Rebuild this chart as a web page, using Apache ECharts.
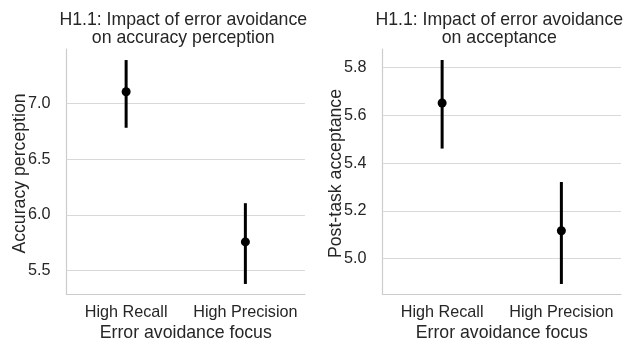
<!DOCTYPE html>
<html><head><meta charset="utf-8">
<script src="https://cdn.jsdelivr.net/npm/echarts@6/dist/echarts.min.js"></script>
<style>html,body{margin:0;padding:0;background:#fff}#c{width:628px;height:341px}</style>
</head><body><div id="c"></div>
<script>
const categories = ['High Recall', 'High Precision'];
// Left panel: accuracy perception
const accMean = [7.104, 5.758];
const accLow = [6.781, 5.381];
const accHigh = [7.388, 6.105];
const accTicks = [5.5, 6.0, 6.5, 7.0];
// Right panel: post-task acceptance
const accepMean = [5.652, 5.117];
const accepLow = [5.461, 4.894];
const accepHigh = [5.832, 5.321];
const accepTicks = [5.0, 5.2, 5.4, 5.6, 5.8];

const titles = ['H1.1: Impact of error avoidance\non accuracy perception', 'H1.1: Impact of error avoidance\non acceptance'];
const yNames = ['Accuracy perception', 'Post-task acceptance'];
const xName = 'Error avoidance focus';

const FONT = 'Liberation Sans, Arial, sans-serif';
const TXT = '#262626';
const SPINE = '#cccccc';
const GRID = '#d9d9d9';

const grids = [
  {left: 66.5, right: 628 - 305, top: 49, bottom: 341 - 294, containLabel: false, outerBoundsMode: 'none'},
  {left: 382.5, right: 628 - 621, top: 49, bottom: 341 - 294, containLabel: false, outerBoundsMode: 'none'}
];
const yRanges = [[5.291, 7.487], [4.852, 5.878]];
const tickSets = [accTicks, accepTicks];
const means = [accMean, accepMean];
const lows = [accLow, accepLow];
const highs = [accHigh, accepHigh];

const option = {
  animation: false,
  backgroundColor: '#fff',
  title: grids.map((g, i) => ({
    text: titles[i],
    left: g.left + (628 - g.left - g.right) / 2 - 7.5,
    top: 5.5,
    textAlign: 'center',
    textStyle: {fontFamily: FONT, fontSize: 17.7, fontWeight: 'normal', color: TXT, lineHeight: 18.5}
  })),
  grid: grids,
  xAxis: grids.map((g, i) => ({
    type: 'category', gridIndex: i, data: categories, boundaryGap: true,
    name: xName, nameLocation: 'middle', nameGap: 30, nameMoveOverlap: false,
    nameTextStyle: {fontFamily: FONT, fontSize: 17.7, color: TXT},
    axisLine: {show: true, lineStyle: {color: SPINE, width: 1.2}},
    axisTick: {show: false},
    axisLabel: {fontFamily: FONT, fontSize: 16.2, color: TXT, margin: 11, interval: 0},
    splitLine: {show: false}
  })),
  yAxis: grids.map((g, i) => ({
    type: 'value', gridIndex: i, min: yRanges[i][0], max: yRanges[i][1],
    name: yNames[i], nameLocation: 'middle', nameGap: 37.5, nameMoveOverlap: false,
    nameTextStyle: {fontFamily: FONT, fontSize: 17.7, color: TXT, padding: [0, 4, 0, 0]},
    axisLine: {show: true, lineStyle: {color: SPINE, width: 1.2}},
    axisTick: {show: false},
    axisLabel: {fontFamily: FONT, fontSize: 16.2, color: TXT, margin: 16,
      customValues: tickSets[i], formatter: v => v.toFixed(1)},
    splitLine: {show: false}
  })),
  series: []
};

for (let i = 0; i < 2; i++) {
  option.series.push({
    type: 'line', xAxisIndex: i, yAxisIndex: i, data: [], z: 1, silent: true,
    markLine: {
      silent: true, symbol: 'none', label: {show: false},
      lineStyle: {color: GRID, width: 1, type: 'solid'},
      data: tickSets[i].map(v => ({yAxis: v}))
    }
  });
  option.series.push({
    type: 'custom', xAxisIndex: i, yAxisIndex: i, z: 5,
    data: categories.map((c, k) => [k, lows[i][k], highs[i][k]]),
    renderItem: (params, api) => {
      const p1 = api.coord([api.value(0), api.value(1)]);
      const p2 = api.coord([api.value(0), api.value(2)]);
      return {type: 'line', shape: {x1: p1[0], y1: p1[1], x2: p2[0], y2: p2[1]},
        style: {stroke: '#000', lineWidth: 3}};
    }
  });
  option.series.push({
    type: 'scatter', xAxisIndex: i, yAxisIndex: i, z: 6,
    symbol: 'circle', symbolSize: 9,
    itemStyle: {color: '#000', opacity: 1},
    data: categories.map((c, k) => [k, means[i][k]])
  });
}

const chart = echarts.init(document.getElementById('c'), null, {renderer: 'canvas'});
chart.setOption(option);
</script></body></html>
